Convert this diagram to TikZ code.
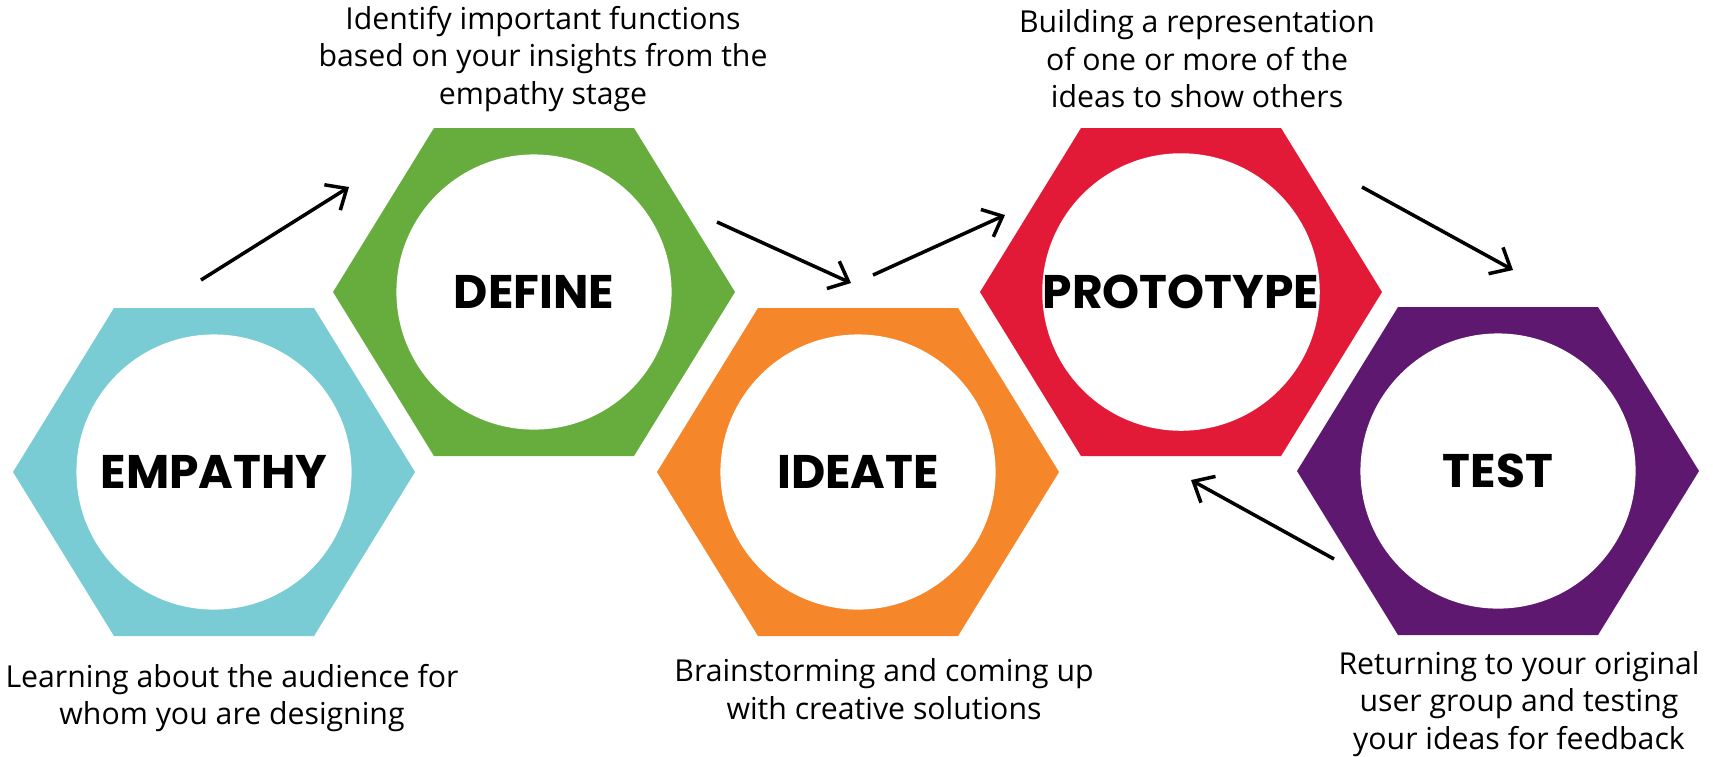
\documentclass[tikz,border=0pt]{standalone}
\usepackage{fontspec}
\setmainfont{Open Sans}
\newfontfamily\headfont{Poppins}
\usetikzlibrary{arrows.meta}
\definecolor{my teal}{HTML}{79CCD3}
\definecolor{my green}{HTML}{67AD3E}
\definecolor{my orange}{HTML}{F5862A}
\definecolor{my red}{HTML}{E31A37}
\definecolor{my purple}{HTML}{5F186F}
\tikzset{
  stage/.style={circle, fill=white, minimum size=2.75cm, inner sep=0pt,
    font=\headfont\bfseries\fontsize{13.4}{14}\selectfont},
  note/.style={align=center, font=\fontsize{8.6}{10.7}\selectfont},
  step arrow/.style={line width=1pt, -{Straight Barb[length=1.7mm, width=3mm]}}
}
\begin{document}
\begin{tikzpicture}[x=0.01cm, y=-0.01cm]
\useasboundingbox (0,0) rectangle (1713,756);
\foreach \name/\cx/\cy/\col/\word in {emp/214/472/my teal/EMPATHY, def/534/292/my green/DEFINE,
    ide/858/472/my orange/IDEATE, pro/1181/292/my red/PROTOTYPE, tst/1498/471/my purple/TEST} {
  \fill [\col] (\cx,\cy) +(-201,0) -- +(-100,-164) -- +(100,-164) -- +(201,0) -- +(100,164) -- +(-100,164) -- cycle;
  \node [stage] (\name) at (\cx,\cy) {\word};
}
\node [note] (def note) at (543,59) {Identify important functions\\based on your insights from the\\empathy stage};
\node [note] (pro note) at (1197,59) {Building a representation\\of one or more of the\\ideas to show others};
\node [note] (emp note) at (232,698) {Learning about the audience for\\whom you are designing};
\node [note] (ide note) at (884,689) {Brainstorming and coming up\\with creative solutions};
\node [note] (tst note) at (1519,704) {Returning to your original\\user group and testing\\your ideas for feedback};
\coordinate (a1) at (201,280); \coordinate (b1) at (349,187);
\coordinate (a2) at (717,222); \coordinate (b2) at (851,283);
\coordinate (a3) at (873,275); \coordinate (b3) at (1005,215);
\coordinate (a4) at (1362,187); \coordinate (b4) at (1513,270);
\coordinate (a5) at (1334,559); \coordinate (b5) at (1191,480);
\foreach \i in {1,...,5}
  \draw [step arrow] (a\i) -- (b\i);
\end{tikzpicture}
\end{document}
